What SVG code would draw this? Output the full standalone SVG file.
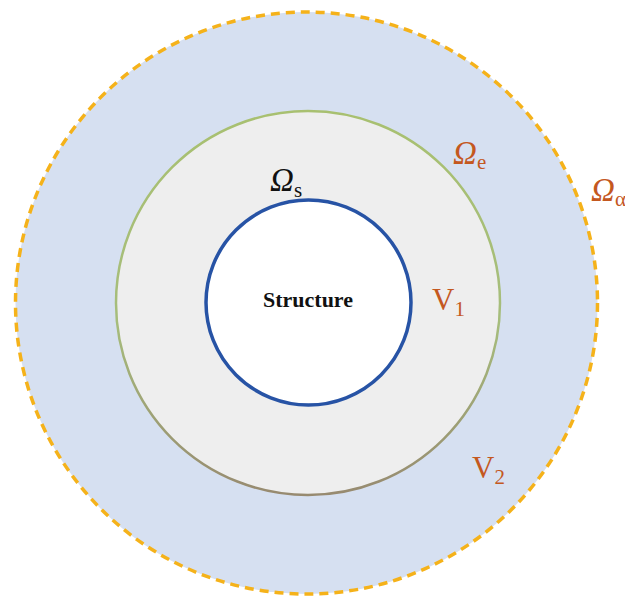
<svg xmlns="http://www.w3.org/2000/svg" width="625" height="599" viewBox="0 0 625 599">
<style>
.lbl{font-family:"Liberation Serif",serif;fill:#c4581f}
.om{font-style:italic;font-size:33px}
.sub{font-size:21px}
</style>
<defs>
<linearGradient id="ring" x1="0" y1="0" x2="0" y2="1">
<stop offset="0" stop-color="#a8c070"/>
<stop offset="0.55" stop-color="#a6bd7c"/>
<stop offset="1" stop-color="#978a70"/>
</linearGradient>
</defs>
<rect width="625" height="599" fill="#ffffff"/>
<g id="outer">
<circle cx="306.5" cy="303" r="291" fill="#d6e0f1" stroke="#f5b21a" stroke-width="3.5" stroke-dasharray="9,6"/>
</g>
<g id="middle">
<circle cx="308" cy="303" r="192" fill="#eeeeee" stroke="url(#ring)" stroke-width="2.5"/>
</g>
<g id="inner">
<circle cx="308.5" cy="302.5" r="102.5" fill="#ffffff" stroke="#2753a5" stroke-width="3.5"/>
<text x="308" y="307" text-anchor="middle" font-family="Liberation Serif,serif" font-weight="bold" font-size="22" fill="#111">Structure</text>
</g>
<g id="labels">
<text class="lbl" x="453" y="164"><tspan class="om">Ω</tspan><tspan class="sub" dy="5">e</tspan></text>
<text class="lbl" x="591" y="201"><tspan class="om">Ω</tspan><tspan class="sub" dy="5" font-size="13">α</tspan></text>
<text x="270" y="191" font-family="Liberation Serif,serif" fill="#111"><tspan class="om">Ω</tspan><tspan class="sub" dy="6">s</tspan></text>
<text class="lbl" x="432" y="310" font-size="31">V<tspan class="sub" dy="6">1</tspan></text>
<text class="lbl" x="472" y="478" font-size="31">V<tspan class="sub" dy="6">2</tspan></text>
</g>
</svg>
